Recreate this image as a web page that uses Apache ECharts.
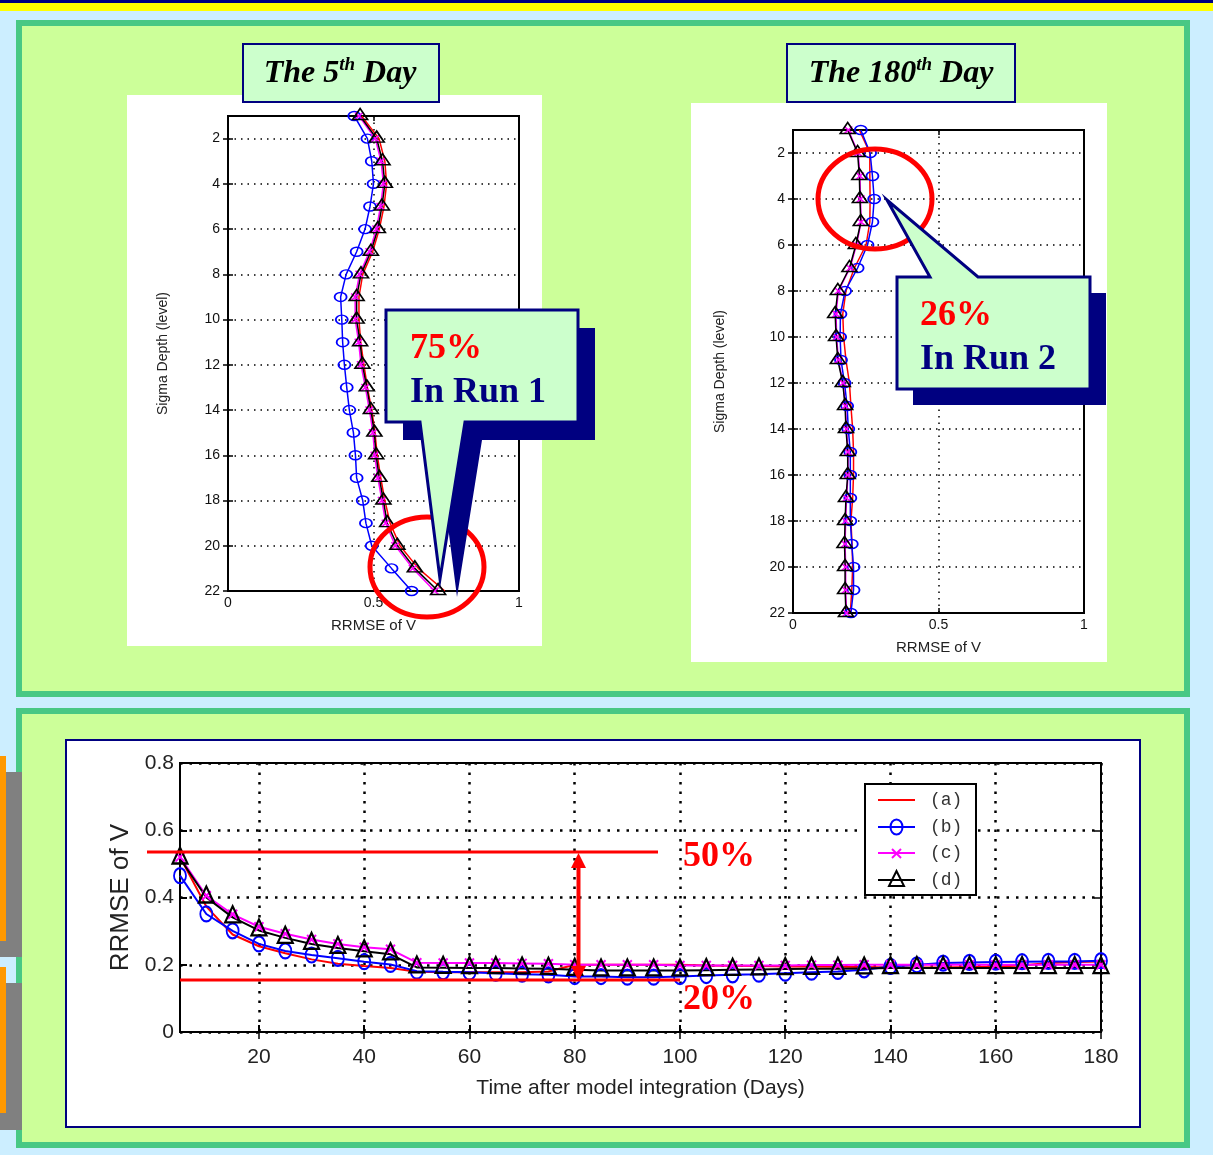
<!DOCTYPE html>
<html><head><meta charset="utf-8">
<script src="https://cdn.jsdelivr.net/npm/echarts@6/dist/echarts.min.js"></script>
<style>html,body{margin:0;padding:0;background:#CCEEFF;overflow:hidden}#c{width:1213px;height:1155px}</style>
</head><body><div id="c"></div>
<script>
// ---------- data ----------
const levels = [1,2,3,4,5,6,7,8,9,10,11,12,13,14,15,16,17,18,19,20,21,22];
// The 5th day profiles (RRMSE of V per sigma level)
const day5A = [0.459,0.519,0.539,0.545,0.536,0.520,0.497,0.463,0.450,0.450,0.456,0.467,0.479,0.494,0.505,0.513,0.525,0.539,0.557,0.591,0.654,0.745];
const day5B = [0.434,0.479,0.494,0.500,0.488,0.471,0.442,0.406,0.387,0.391,0.394,0.400,0.408,0.417,0.431,0.438,0.442,0.463,0.474,0.494,0.562,0.631];
const day5C = [0.450,0.506,0.526,0.534,0.524,0.510,0.486,0.452,0.437,0.437,0.449,0.457,0.472,0.486,0.498,0.504,0.515,0.529,0.542,0.575,0.635,0.710];
const day5D = [0.454,0.511,0.531,0.539,0.529,0.515,0.491,0.457,0.442,0.442,0.454,0.462,0.477,0.491,0.503,0.509,0.520,0.534,0.547,0.582,0.642,0.722];
// The 180th day profiles
const day180A = [0.228,0.264,0.264,0.265,0.264,0.251,0.211,0.182,0.171,0.174,0.182,0.194,0.199,0.205,0.208,0.208,0.205,0.199,0.203,0.205,0.202,0.197];
const day180B = [0.233,0.265,0.273,0.279,0.273,0.256,0.222,0.179,0.163,0.162,0.165,0.177,0.186,0.190,0.197,0.197,0.197,0.197,0.202,0.208,0.208,0.199];
const day180C = [0.190,0.224,0.230,0.232,0.234,0.218,0.196,0.156,0.148,0.150,0.156,0.172,0.180,0.184,0.189,0.189,0.184,0.181,0.179,0.181,0.181,0.184];
const day180D = [0.188,0.222,0.228,0.230,0.233,0.216,0.194,0.154,0.145,0.148,0.154,0.171,0.179,0.182,0.188,0.188,0.182,0.179,0.177,0.179,0.179,0.182];
// Time series (days after model integration)
const days = [5,10,15,20,25,30,35,40,45,50,55,60,65,70,75,80,85,90,95,100,105,110,115,120,125,130,135,140,145,150,155,160,165,170,175,180];
const timeA = [0.520,0.373,0.290,0.255,0.234,0.216,0.203,0.196,0.190,0.179,0.178,0.178,0.178,0.178,0.180,0.200,0.200,0.200,0.200,0.200,0.198,0.197,0.196,0.195,0.195,0.194,0.193,0.192,0.192,0.192,0.193,0.195,0.198,0.205,0.208,0.210];
const timeB = [0.465,0.351,0.301,0.262,0.241,0.229,0.219,0.209,0.201,0.181,0.179,0.178,0.175,0.172,0.170,0.165,0.165,0.163,0.163,0.165,0.168,0.170,0.172,0.175,0.178,0.180,0.185,0.195,0.200,0.205,0.207,0.208,0.209,0.210,0.210,0.212];
const timeC = [0.520,0.405,0.350,0.313,0.292,0.275,0.262,0.252,0.246,0.206,0.205,0.205,0.205,0.204,0.203,0.200,0.200,0.200,0.200,0.198,0.198,0.198,0.198,0.198,0.199,0.199,0.200,0.200,0.200,0.200,0.200,0.200,0.200,0.200,0.200,0.200];
const timeD = [0.516,0.400,0.341,0.302,0.280,0.262,0.250,0.240,0.231,0.192,0.191,0.190,0.190,0.189,0.188,0.185,0.183,0.183,0.183,0.183,0.184,0.185,0.186,0.187,0.188,0.188,0.189,0.190,0.190,0.190,0.190,0.190,0.190,0.190,0.190,0.190];
// tick labels
const levelTicks = [2,4,6,8,10,12,14,16,18,20,22];
const rrmseTicks = [0,0.5,1];
const dayTicks = [20,40,60,80,100,120,140,160,180];
const rrmseTicksBottom = [0,0.2,0.4,0.6,0.8];
const seriesNames = ['(a)','(b)','(c)','(d)'];
const titles = ['The 5', 'th', ' Day', 'The 180', 'th', ' Day'];

// ---------- styles ----------
const SANS = '"Liberation Sans", Arial, sans-serif';
const SERIF = '"Liberation Serif", "Times New Roman", serif';
const NAVY = '#000080';
const TR = 'rgba(0,0,0,0)';
const XPATH = 'path://M0,0L10,10M10,0L0,10';

function profileSeries(xi, A, B, C, D) {
  const mk = (arr) => levels.map((l, i) => [arr[i], l]);
  const base = {type:'line', xAxisIndex:xi, yAxisIndex:xi, silent:true, animation:false, emphasis:{disabled:true}};
  return [
    Object.assign({}, base, {name:seriesNames[0], data:mk(A), symbol:'none', lineStyle:{color:'#FF0000', width:1.5}, itemStyle:{color:'#FF0000'}}),
    Object.assign({}, base, {name:seriesNames[1], data:mk(B), symbol:'circle', symbolSize:[12,9], lineStyle:{color:'#0000FF', width:1.5}, itemStyle:{color:TR, borderColor:'#0000FF', borderWidth:1.6}}),
    Object.assign({}, base, {name:seriesNames[2], data:mk(C), symbol:XPATH, symbolSize:[8,7], lineStyle:{color:'#FF00FF', width:1.5}, itemStyle:{color:TR, borderColor:'#FF00FF', borderWidth:1.5}}),
    Object.assign({}, base, {name:seriesNames[3], data:mk(D), symbol:'triangle', symbolSize:[15,11], symbolOffset:[0,-2], lineStyle:{color:'#000', width:1.5}, itemStyle:{color:TR, borderColor:'#000', borderWidth:1.6}})
  ];
}
function timeSeries(xi) {
  const mk = (arr) => days.map((d, i) => [d, arr[i]]);
  const base = {type:'line', xAxisIndex:xi, yAxisIndex:xi, silent:true, animation:false, emphasis:{disabled:true}};
  return [
    Object.assign({}, base, {name:seriesNames[0], data:mk(timeA), symbol:'none', lineStyle:{color:'#FF0000', width:2}, itemStyle:{color:'#FF0000'}}),
    Object.assign({}, base, {name:seriesNames[1], data:mk(timeB), symbol:'circle', symbolSize:[12,15], lineStyle:{color:'#0000FF', width:2}, itemStyle:{color:TR, borderColor:'#0000FF', borderWidth:2}}),
    Object.assign({}, base, {name:seriesNames[2], data:mk(timeC), symbol:XPATH, symbolSize:[9,9], lineStyle:{color:'#FF00FF', width:2}, itemStyle:{color:TR, borderColor:'#FF00FF', borderWidth:2}}),
    Object.assign({}, base, {name:seriesNames[3], data:mk(timeD), symbol:'triangle', symbolSize:[15,16], symbolOffset:[0,-3], lineStyle:{color:'#000', width:2}, itemStyle:{color:TR, borderColor:'#000', borderWidth:2.2}})
  ];
}

const dotTop = {show:true, lineStyle:{color:'#000', type:[1.5,5], width:1.5}};
const dotBot = {show:true, lineStyle:{color:'#000', type:[2.5,7], width:2.5}};

function topX(gi) {
  return {gridIndex:gi, type:'value', min:0, max:1, interval:0.5, position:'bottom',
    name:'RRMSE of V', nameLocation:'middle', nameGap:27,
    nameTextStyle:{fontFamily:SANS, fontSize:15, color:'#222'},
    axisLine:{show:false}, axisTick:{inside:true, length:5, lineStyle:{color:'#000', width:1.5}},
    axisLabel:{margin:5, fontFamily:SANS, fontSize:14, color:'#111', formatter:(v)=>String(v)},
    splitLine:dotTop};
}
function topY(gi, gap) {
  return {gridIndex:gi, type:'value', min:1, max:22, inverse:true, position:'left',
    name:'Sigma Depth (level)', nameLocation:'middle', nameGap:gap, nameRotate:90,
    nameTextStyle:{fontFamily:SANS, fontSize:14, color:'#222'},
    axisLine:{show:false},
    axisTick:{inside:true, length:5, customValues:levelTicks, lineStyle:{color:'#000', width:1.5}},
    axisLabel:{customValues:levelTicks, margin:8, fontFamily:SANS, fontSize:14, color:'#111'},
    splitLine:dotTop};
}
function ticksOnlyX(gi, min, max, vals, len) {
  return {gridIndex:gi, type:'value', min, max, position:'top', axisLine:{show:false},
    axisTick:{inside:true, length:len, customValues:vals, lineStyle:{color:'#000', width:1.5}},
    axisLabel:{show:false, customValues:vals}, splitLine:{show:false}};
}
function ticksOnlyY(gi, min, max, vals, len, inv) {
  return {gridIndex:gi, type:'value', min, max, inverse:!!inv, position:'right', axisLine:{show:false},
    axisTick:{inside:true, length:len, customValues:vals, lineStyle:{color:'#000', width:1.5}},
    axisLabel:{show:false, customValues:vals}, splitLine:{show:false}};
}

const gridStyle = {show:true, backgroundColor:'#fff', borderColor:'#000', borderWidth:2, containLabel:false};

// ---------- decorations ----------
const G = [];
const rect = (x,y,w,h,style,z) => G.push({type:'rect', shape:{x,y,width:w,height:h}, style, z, silent:true});
rect(0,0,1213,3,{fill:NAVY},-20);
rect(0,3,1213,8,{fill:'#FFFF00'},-20);
rect(19,23,1168,671,{fill:'#CCFF99', stroke:'#48C884', lineWidth:6},-19);
rect(19,711,1168,434,{fill:'#CCFF99', stroke:'#48C884', lineWidth:6},-19);
rect(0,772,22,185,{fill:'#808080'},-18);
rect(0,983,22,147,{fill:'#808080'},-18);
rect(0,756,6,185,{fill:'#FF9900'},-17);
rect(0,967,6,146,{fill:'#FF9900'},-17);
rect(127,95,415,551,{fill:'#fff'},-16);
rect(691,103,416,559,{fill:'#fff'},-16);
rect(66,740,1074,387,{fill:'#fff', stroke:NAVY, lineWidth:2},-16);
rect(243,44,196,58,{fill:'#CCFFCC', stroke:NAVY, lineWidth:2},-15);
rect(787,44,228,58,{fill:'#CCFFCC', stroke:NAVY, lineWidth:2},-15);
const titleRich = {
  a:{fontFamily:SERIF, fontSize:32, fontWeight:'bold', fontStyle:'italic', color:NAVY, lineHeight:36,
     textShadowColor:'rgba(0,0,40,0.4)', textShadowOffsetX:2, textShadowOffsetY:2},
  s:{fontFamily:SERIF, fontSize:19, fontWeight:'bold', fontStyle:'italic', color:NAVY, lineHeight:19, verticalAlign:'top',
     textShadowColor:'rgba(0,0,40,0.4)', textShadowOffsetX:1, textShadowOffsetY:1}
};
G.push({type:'text', z:-14, silent:true, style:{x:340, y:74, text:'{a|'+titles[0]+'}{s|'+titles[1]+'}{a|'+titles[2]+'}', rich:titleRich, textAlign:'center', textVerticalAlign:'middle'}});
G.push({type:'text', z:-14, silent:true, style:{x:901, y:74, text:'{a|'+titles[3]+'}{s|'+titles[4]+'}{a|'+titles[5]+'}', rich:titleRich, textAlign:'center', textVerticalAlign:'middle'}});

G.push({type:'ellipse', z:100, silent:true, shape:{cx:427, cy:567, rx:57, ry:50}, style:{fill:'none', stroke:'#FF0000', lineWidth:5}});
G.push({type:'ellipse', z:100, silent:true, shape:{cx:875, cy:199, rx:57, ry:50}, style:{fill:'none', stroke:'#FF0000', lineWidth:5}});

function callout(pts, dx, dy) {
  G.push({type:'polygon', z:101, silent:true, shape:{points:pts.map(p=>[p[0]+dx,p[1]+dy])}, style:{fill:NAVY}});
  G.push({type:'polygon', z:102, silent:true, shape:{points:pts}, style:{fill:'#CCFFCC', stroke:NAVY, lineWidth:3, lineJoin:'miter'}});
}
callout([[386,310],[578,310],[578,422],[465,422],[440,579],[420,422],[386,422]], 17, 18);
callout([[897,277],[930,277],[887,200],[978,277],[1090,277],[1090,389],[897,389]], 16, 16);

function bigText(x, baseline, text, color) {
  G.push({type:'text', z:103, silent:true, style:{x, y:baseline-12.2, text, fill:color,
    font:'bold 36px "Liberation Serif", "Times New Roman", serif', textAlign:'left', textVerticalAlign:'middle',
    textShadowColor:'rgba(20,0,0,0.8)', textShadowOffsetX:2, textShadowOffsetY:2, textShadowBlur:0}});
}
bigText(410, 361, '75%', '#FF0000');
bigText(410, 405, 'In Run 1', NAVY);
bigText(920, 328, '26%', '#FF0000');
bigText(920, 372, 'In Run 2', NAVY);

G.push({type:'line', z:100, silent:true, shape:{x1:147, y1:852, x2:658, y2:852}, style:{stroke:'#FF0000', lineWidth:3}});
G.push({type:'line', z:100, silent:true, shape:{x1:180, y1:980, x2:680, y2:980}, style:{stroke:'#FF0000', lineWidth:3}});
G.push({type:'line', z:100, silent:true, shape:{x1:578.5, y1:862, x2:578.5, y2:970}, style:{stroke:'#FF0000', lineWidth:4}});
G.push({type:'polygon', z:100, silent:true, shape:{points:[[578.5,853],[571,868],[586,868]]}, style:{fill:'#FF0000'}});
G.push({type:'polygon', z:100, silent:true, shape:{points:[[578.5,981],[571,966],[586,966]]}, style:{fill:'#FF0000'}});
bigText(683, 869, '50%', '#FF0000');
bigText(683, 1012, '20%', '#FF0000');

rect(865,784,111,111,{fill:'#fff', stroke:'#000', lineWidth:2},100);
const legY = [800, 827, 853, 880];
const legCol = ['#FF0000','#0000FF','#FF00FF','#000000'];
legY.forEach((y, i) => {
  G.push({type:'line', z:101, silent:true, shape:{x1:878, y1:y, x2:915, y2:y}, style:{stroke:legCol[i], lineWidth:2}});
  G.push({type:'text', z:101, silent:true, style:{x:930, y:y, text:seriesNames[i], fill:'#333',
    font:'18px "Liberation Mono", "DejaVu Sans Mono", monospace', textAlign:'left', textVerticalAlign:'middle'}});
});
G.push({type:'ellipse', z:102, silent:true, shape:{cx:896.5, cy:827, rx:6, ry:7.5}, style:{fill:'none', stroke:'#0000FF', lineWidth:2}});
G.push({type:'polyline', z:102, silent:true, shape:{points:[[892,849],[901,858]]}, style:{stroke:'#FF00FF', lineWidth:2}});
G.push({type:'polyline', z:102, silent:true, shape:{points:[[901,849],[892,858]]}, style:{stroke:'#FF00FF', lineWidth:2}});
G.push({type:'polygon', z:102, silent:true, shape:{points:[[896.5,871],[889,886],[904,886]]}, style:{fill:'none', stroke:'#000', lineWidth:2}});

// ---------- chart ----------
const chart = echarts.init(document.getElementById('c'), null, {renderer:'canvas'});
chart.setOption({
  backgroundColor:'#CCEEFF',
  animation:false,
  grid:[
    Object.assign({left:228, top:116, width:291, height:475}, gridStyle),
    Object.assign({left:793, top:130, width:291, height:483}, gridStyle),
    Object.assign({left:180, top:763, width:921, height:269}, gridStyle)
  ],
  xAxis:[
    topX(0), topX(1),
    {gridIndex:2, type:'value', min:5, max:180, position:'bottom',
     name:'Time after model integration (Days)', nameLocation:'middle', nameGap:46,
     nameTextStyle:{fontFamily:SANS, fontSize:21, color:'#222'},
     axisLine:{show:false},
     axisTick:{inside:true, length:7, customValues:dayTicks, lineStyle:{color:'#000', width:2}},
     axisLabel:{customValues:dayTicks, margin:15, fontFamily:SANS, fontSize:21, color:'#222'},
     splitLine:dotBot},
    ticksOnlyX(0, 0, 1, rrmseTicks, 5), ticksOnlyX(1, 0, 1, rrmseTicks, 5), ticksOnlyX(2, 5, 180, dayTicks, 7)
  ],
  yAxis:[
    topY(0, 58), topY(1, 66),
    {gridIndex:2, type:'value', min:0, max:0.8, interval:0.2, position:'left',
     name:'RRMSE of V', nameLocation:'middle', nameGap:38, nameRotate:90,
     nameTextStyle:{fontFamily:SANS, fontSize:26, color:'#222'},
     axisLine:{show:false},
     axisTick:{inside:true, length:7, lineStyle:{color:'#000', width:2}},
     axisLabel:{margin:6, fontFamily:SANS, fontSize:21, color:'#222'},
     splitLine:dotBot},
    ticksOnlyY(0, 1, 22, levelTicks, 5, true), ticksOnlyY(1, 1, 22, levelTicks, 5, true), ticksOnlyY(2, 0, 0.8, rrmseTicksBottom, 7, false)
  ],
  series:[].concat(profileSeries(0, day5A, day5B, day5C, day5D), profileSeries(1, day180A, day180B, day180C, day180D), timeSeries(2)),
  graphic:{elements:G}
});
</script></body></html>
